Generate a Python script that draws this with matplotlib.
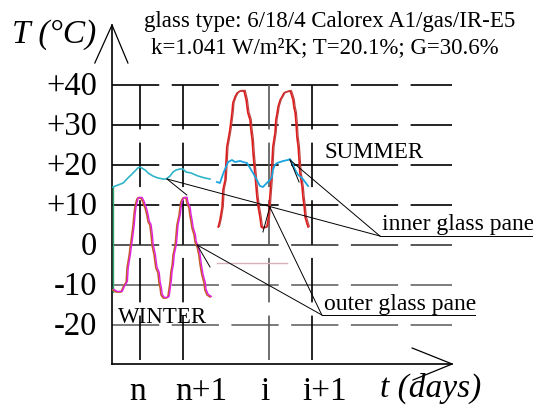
import matplotlib
matplotlib.use("Agg")
import matplotlib.pyplot as plt
import matplotlib.transforms as mtransforms

plt.rcParams['font.family'] = ['Liberation Serif', 'DejaVu Serif']
plt.rcParams['lines.scale_dashes'] = False

# x in days from the axis origin, y in degrees C
winter_inner_x = [0.02, 0.14, 0.26, 0.37, 0.49, 0.60, 0.65, 0.77, 0.84, 0.95, 1.07, 1.19,
                  1.26, 1.35, 1.42, 1.49, 1.58, 1.65, 1.72, 1.84, 2.00, 2.16, 2.28]
winter_inner_t = [14.5, 15.0, 15.5, 16.75, 18.0, 19.25, 19.5, 18.75, 18.0, 17.25, 16.75, 16.5,
                  16.5, 17.25, 18.25, 18.75, 19.0, 19.0, 18.25, 18.0, 17.25, 16.75, 16.5]

winter_outer_x = [0.02, 0.09, 0.21, 0.26, 0.33, 0.35, 0.40, 0.42, 0.44, 0.47, 0.49, 0.51,
                  0.53, 0.56, 0.58, 0.60, 0.67, 0.72, 0.74, 0.77, 0.81, 0.84, 0.88, 0.91,
                  0.93, 0.98, 1.00, 1.02, 1.07, 1.09, 1.12, 1.14, 1.19, 1.26, 1.30, 1.33,
                  1.35, 1.37, 1.40, 1.42, 1.47, 1.49, 1.51, 1.56, 1.58, 1.60, 1.65, 1.72,
                  1.74, 1.79, 1.81, 1.84, 1.86, 1.91, 1.93, 1.98, 2.02, 2.05, 2.09, 2.14,
                  2.16, 2.21, 2.28]
winter_outer_t = [-11.25, -11.75, -11.75, -10.5, -9.25, -5.75, -2.5, -0.75, 0.75, 3.25, 5.0, 7.5,
                  9.25, 10.75, 11.5, 11.75, 11.75, 10.75, 10.0, 9.25, 7.5, 5.75, 5.0, 2.5,
                  0.0, -2.5, -4.25, -5.75, -7.0, -9.25, -10.75, -12.5, -13.25, -13.25, -13.0, -10.75,
                  -9.25, -6.75, -5.0, -2.5, 0.0, 2.5, 5.0, 7.5, 9.25, 10.75, 11.75, 11.75,
                  10.5, 9.25, 7.5, 5.75, 4.25, 2.5, 0.75, -0.5, -2.5, -5.0, -7.5, -9.5,
                  -11.25, -12.5, -13.0]

summer_inner_x = [2.44, 2.51, 2.60, 2.70, 2.79, 2.86, 2.98, 3.05, 3.14, 3.21, 3.28, 3.37,
                  3.44, 3.51, 3.60, 3.67, 3.72, 3.74, 3.79, 3.84, 3.91, 3.98, 4.09, 4.14,
                  4.19, 4.26, 4.33, 4.42, 4.49, 4.56]
summer_inner_t = [15.75, 15.5, 18.25, 20.75, 21.25, 20.75, 21.0, 20.75, 20.5, 19.25, 18.0, 16.25,
                  14.75, 14.5, 15.5, 16.25, 17.0, 18.75, 20.0, 20.5, 20.75, 21.0, 21.25, 21.5,
                  20.5, 18.75, 17.5, 16.75, 15.75, 14.75]

summer_outer_x = [2.47, 2.51, 2.56, 2.58, 2.63, 2.65, 2.67, 2.70, 2.74, 2.79, 2.81, 2.86,
                  2.91, 2.98, 3.07, 3.12, 3.14, 3.16, 3.21, 3.23, 3.26, 3.28, 3.30, 3.33,
                  3.35, 3.37, 3.40, 3.44, 3.47, 3.51, 3.60, 3.63, 3.65, 3.67, 3.70, 3.72,
                  3.74, 3.79, 3.81, 3.84, 3.86, 3.91, 3.95, 4.00, 4.05, 4.14, 4.16, 4.21,
                  4.23, 4.26, 4.28, 4.30, 4.33, 4.35, 4.37, 4.42, 4.44, 4.47, 4.49, 4.53, 4.56]
summer_outer_t = [4.5, 6.25, 9.5, 13.75, 16.25, 20.5, 24.5, 26.25, 28.75, 33.0, 35.5, 37.0,
                  38.0, 38.5, 38.5, 36.25, 34.5, 33.0, 31.25, 28.75, 26.25, 23.0, 20.5, 17.0,
                  14.5, 12.0, 9.5, 7.0, 4.5, 4.25, 4.5, 6.25, 8.75, 12.0, 16.25, 20.5,
                  24.5, 28.0, 31.25, 33.0, 34.5, 36.25, 37.0, 38.0, 38.25, 38.5, 38.0, 36.25,
                  34.5, 33.0, 30.5, 27.0, 24.5, 21.25, 18.0, 14.5, 12.0, 9.5, 7.0, 5.5, 4.5]

grid_t = [40, 30, 20, 10, 0, -10, -20]
grid_t_labels = ['+40', '+30', '+20', '+10', '0', '-10', '-20']
grid_t_colors = ['black', 'black', 'black', 'black', '#3a3a3a', '#666666', '#666666']
day_lines = [0.65, 1.65, 3.65, 4.65]
day_line_colors = ['black', 'black', '#555555', 'black']
day_labels = ['n', 'n+1', 'i', 'i+1']
day_label_x = [0.60, 2.07, 3.56, 4.95]

# callouts: label anchor and the points on the curves it points to
inner_anchor = (6.23, 2.25)
inner_targets = [(1.28, 16.5), (4.14, 21.25)]
inner_ticks = [((1.28, 16.5), (1.74, 12.5)), ((4.14, 21.25), (4.35, 15.75))]
outer_anchor = (4.88, -17.5)
outer_targets = [(1.98, 0.0), (3.67, 9.5)]
outer_ticks = [((1.98, 0.0), (2.28, -5.5)), ((3.67, 9.5), (3.51, 3.25))]

x_end = 7.91
t_bottom = -29.75
t_top = 55.0

fig = plt.figure(figsize=(5.33, 4.09), dpi=100)
ax = fig.add_axes([0, 0, 1, 1])
ax.set_xlim(-112 / 43, (533 - 112) / 43)
ax.set_ylim(-41, 61.25)
ax.axis('off')

# dashed grid
for t, c in zip(grid_t, grid_t_colors):
    ax.plot([0, x_end], [t, t], color=c, lw=1.2, dashes=(34, 9), solid_capstyle='butt')
for d, c in zip(day_lines, day_line_colors):
    ax.plot([d, d], [40, t_bottom], color=c, lw=1.2, dashes=(32, 9.5))

# axes with open arrows
ax.plot([0, 0], [t_bottom, t_top], color='black', lw=1.2)
ax.plot([-0.40, 0, 0.37], [45.5, t_top, 45.5], color='black', lw=0.9)
ax.plot([0, x_end], [t_bottom, t_bottom], color='black', lw=1.2)
ax.plot([6.98, x_end, 7.0], [-25.75, t_bottom, -33.75], color='black', lw=0.9)

# curves (double traced like the scanned original)
shift = mtransforms.offset_copy(ax.transData, fig=fig, x=1.2, y=0.6, units='dots')
ax.plot([0.02, 0.02], [14.5, -11.75], color='#2aa870', lw=1.0)
ax.plot(winter_outer_x, winter_outer_t, color='#c85a28', lw=1.2)
ax.plot(winter_outer_x, winter_outer_t, color='#e020e0', lw=1.0, transform=shift)
ax.plot(winter_inner_x, winter_inner_t, color='#30b4c8', lw=1.2)
ax.plot([2.44, 4.07], [-4.5, -4.5], color='#d8b0b8', lw=1.0)
ax.plot(summer_outer_x, summer_outer_t, color='#e01818', lw=1.2)
ax.plot(summer_outer_x, summer_outer_t, color='#c04040', lw=0.9, transform=shift)
ax.plot(summer_inner_x, summer_inner_t, color='#1aa4e0', lw=1.3)

# callout lines
for tx, ty in inner_targets:
    ax.plot([inner_anchor[0], tx], [inner_anchor[1], ty], color='black', lw=0.7)
for (x0, y0), (x1, y1) in inner_ticks:
    ax.plot([x0, x1], [y0, y1], color='black', lw=0.7)
ax.plot([inner_anchor[0], 9.79], [inner_anchor[1]] * 2, color='black', lw=0.7)
for tx, ty in outer_targets:
    ax.plot([outer_anchor[0], tx], [outer_anchor[1], ty], color='black', lw=0.7)
for (x0, y0), (x1, y1) in outer_ticks:
    ax.plot([x0, x1], [y0, y1], color='black', lw=0.7)
ax.plot([outer_anchor[0], 8.44], [outer_anchor[1]] * 2, color='black', lw=0.7)

# texts
for t, lab in zip(grid_t, grid_t_labels):
    ax.text(-0.35, t - 2.5, lab, fontsize=23.5, ha='right', va='baseline')
for x, lab in zip(day_label_x, day_labels):
    ax.text(x, -38.75, lab, fontsize=24, ha='center', va='baseline')
ax.text(6.23, -38.0, 't (days)', fontsize=24, style='italic', ha='left', va='baseline')
ax.text(-2.33, 50.5, 'T (°C)', fontsize=24, style='italic', ha='left', va='baseline')
ax.text(5.07, 54.5, 'glass type: 6/18/4 Calorex A1/gas/IR-E5', fontsize=16.5,
        ha='center', va='baseline')
ax.text(4.95, 48.0, 'k=1.041 W/m²K; T=20.1%; G=30.6%', fontsize=16.5,
        ha='center', va='baseline')
ax.text(4.95, 21.75, 'SUMMER', fontsize=16.5, ha='left', va='baseline')
ax.text(0.14, -19.5, 'WINTER', fontsize=16.5, ha='left', va='baseline')
ax.text(6.28, 3.75, 'inner glass pane', fontsize=17, ha='left', va='baseline')
ax.text(4.93, -16.25, 'outer glass pane', fontsize=17, ha='left', va='baseline')

fig.savefig('out.png', dpi=100, facecolor='white')
